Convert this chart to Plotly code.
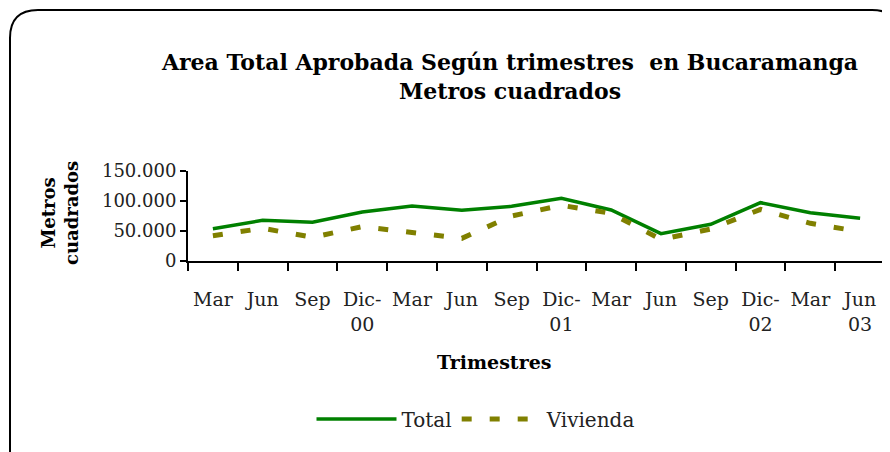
import plotly.graph_objects as go

quarters = ["Mar", "Jun", "Sep", "Dic-<br>00", "Mar", "Jun", "Sep", "Dic-<br>01",
            "Mar", "Jun", "Sep", "Dic-<br>02", "Mar", "Jun<br>03"]
total = [53800, 67800, 64500, 81700, 91700, 84500, 91100, 104500,
         85000, 45500, 61100, 97200, 80500, 71100]
vivienda = [42200, 54500, 39500, 57200, 47500, 37800, 75000, 92800,
            79400, 36000, 53300, 86100, 62800, 48900]
y_ticks = [0, 50000, 100000, 150000]
y_ticktext = ["0", "50.000", "100.000", "150.000"]

OFF = 8  # page body margin of the browser
W, H = 890 - OFF, 452 - OFF
# plot area in reference (window) pixels
L, R, T, B = 188, 885, 171, 261

def px2paper(x, y):
    return (x - L) / (R - L), (B - y) / (B - T)

FONT = "DejaVu Serif"
xs = list(range(len(quarters)))

fig = go.Figure()
fig.add_trace(go.Scatter(x=xs, y=total, name="Total", mode="lines",
                         line=dict(color="#008000", width=3.5)))
fig.add_trace(go.Scatter(x=xs, y=vivienda, name="Vivienda", mode="lines",
                         line=dict(color="#808000", width=5, dash="10px,18px")))

# rounded border
x0, y0, x1, y1, r = 10, 10, 900, 470, 28
def P(x, y):
    a, b = px2paper(x, y)
    return f"{a:.5f},{b:.5f}"
path = (f"M {P(x0, y1)} L {P(x0, y0 + r)} Q {P(x0, y0)} {P(x0 + r, y0)} "
        f"L {P(x1 - r, y0)} Q {P(x1, y0)} {P(x1, y0 + r)} L {P(x1, y1)}")
fig.add_shape(type="path", xref="paper", yref="paper", path=path,
              line=dict(color="black", width=2))

ax, ay = px2paper(60, 213)
fig.add_annotation(text="<b>Metros<br>cuadrados</b>", textangle=-90,
                   xref="paper", yref="paper", x=ax, y=ay, xanchor="center",
                   yanchor="middle", showarrow=False,
                   font=dict(family=FONT, size=18, color="black"))
tx, ty = px2paper(494, 362)
fig.add_annotation(text="<b>Trimestres</b>", xref="paper", yref="paper",
                   x=tx, y=ty, xanchor="center", yanchor="middle", showarrow=False,
                   font=dict(family=FONT, size=19, color="black"))

lx, ly = px2paper(476, 419)
fig.update_layout(
    width=W, height=H,
    margin=dict(l=L - OFF, r=890 - R, t=T - OFF, b=452 - B, pad=0),
    paper_bgcolor="white", plot_bgcolor="white",
    title=dict(text="<b>Area Total Aprobada Según trimestres  en Bucaramanga<br>Metros cuadrados</b>",
               xref="container", yref="container", x=(510 - OFF) / W, xanchor="center",
               y=1 - (70 - OFF) / H, yanchor="top",
               font=dict(family=FONT, size=22, color="black")),
    font=dict(family=FONT, size=19, color="black"),
    showlegend=True,
    legend=dict(orientation="h", x=lx, y=ly, xanchor="center", yanchor="middle",
                font=dict(family=FONT, size=20, color="#222"),
                bgcolor="rgba(0,0,0,0)", itemwidth=80),
    xaxis=dict(range=[-0.5, len(quarters) - 0.5], tickmode="array", tickvals=xs,
               ticktext=quarters, ticks="", showgrid=False, zeroline=False,
               showline=True, linecolor="black", linewidth=2,
               ticklabelstandoff=20,
               tickfont=dict(family=FONT, size=19, color="#222"),
               minor=dict(tickvals=[i - 0.5 for i in range(len(quarters) + 1)],
                          ticks="outside", ticklen=8, tickwidth=2, tickcolor="black",
                          showgrid=False)),
    yaxis=dict(range=[0, 150000], tickmode="array", tickvals=y_ticks,
               ticktext=y_ticktext, ticks="outside", ticklen=6, tickwidth=2,
               tickcolor="black", showgrid=False, zeroline=False, showline=True,
               linecolor="black", linewidth=2,
               tickfont=dict(family=FONT, size=18, color="#222")),
)

fig.write_html("out.html")
